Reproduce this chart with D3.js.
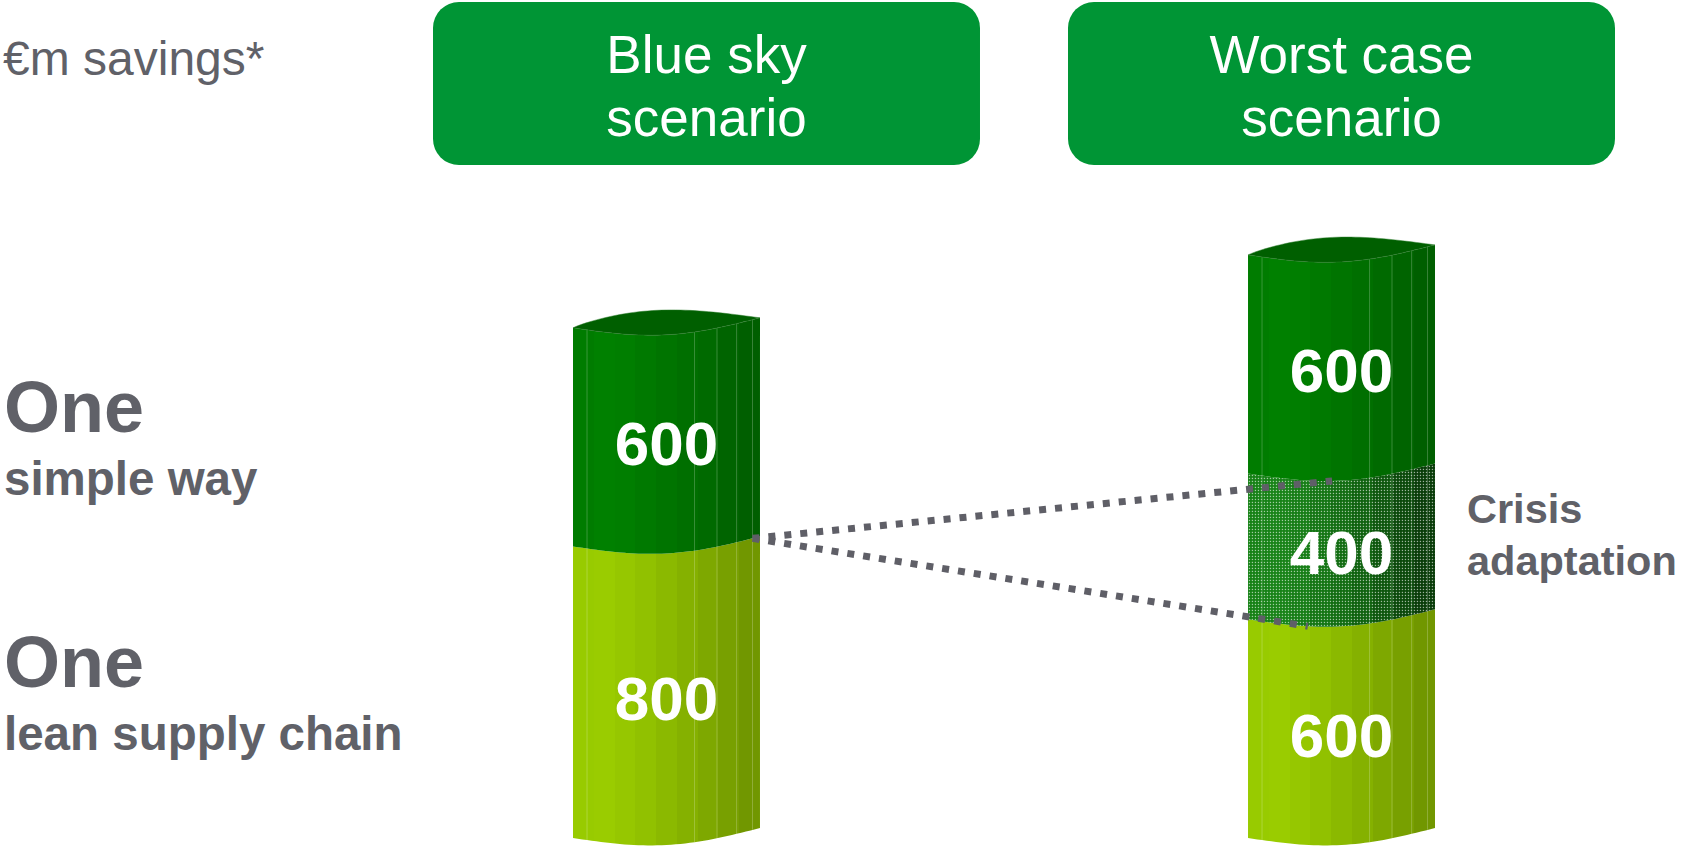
<!DOCTYPE html>
<html>
<head>
<meta charset="utf-8">
<script src="https://cdn.jsdelivr.net/npm/d3@7"></script>
<style>
  html, body { margin: 0; padding: 0; background: #ffffff; }
  svg { display: block; }
  text { font-family: "Liberation Sans", Arial, Helvetica, sans-serif; }
</style>
</head>
<body>
<script>
// ---------------- data ----------------
const categories = ["Blue sky scenario", "Worst case scenario"];
const headerLines = [["Blue sky", "scenario"], ["Worst case", "scenario"]];
const seriesKeys = ["leanSupplyChain", "crisisAdaptation", "simpleWay"];
const leanSupplyChain = [800, 600];
const crisisAdaptation = [0, 400];
const simpleWay = [600, 600];
const unitLabel = "€m savings*";
const rowLabels = [
  { key: "simpleWay", big: "One", small: "simple way" },
  { key: "leanSupplyChain", big: "One", small: "lean supply chain" }
];
const sideLabel = { key: "crisisAdaptation", lines: ["Crisis", "adaptation"] };
const yDomainMax = 1600;

// ---------------- setup ----------------
const W = 1684, H = 846;
const svg = d3.select("body").append("svg").attr("width", W).attr("height", H);
const gray = "#606168";

const rows = categories.map((c, i) => ({
  category: c,
  leanSupplyChain: leanSupplyChain[i],
  crisisAdaptation: crisisAdaptation[i],
  simpleWay: simpleWay[i]
}));
const stacked = d3.stack().keys(seriesKeys)(rows);

const xHeader = d3.scaleBand().domain(categories).range([433, 1615]).paddingInner(0.1386);
const xBar = d3.scaleBand().domain(categories).range([573, 1435]).paddingInner(0.723);
const y = d3.scaleLinear().domain([0, yDomainMax]).range([838, 254.9]);

// ---------------- defs ----------------
const defs = svg.append("defs");
function stepGradient(id, colors) {
  const g = defs.append("linearGradient").attr("id", id)
    .attr("x1", "0").attr("x2", "1").attr("y1", "0").attr("y2", "0");
  const n = colors.length;
  colors.forEach((c, i) => {
    g.append("stop").attr("offset", i / n).attr("stop-color", c);
    g.append("stop").attr("offset", (i + 1) / n).attr("stop-color", c);
  });
}
stepGradient("gDark", ["#007c00", "#008000", "#007e00", "#007900", "#007400", "#006f00", "#006a00", "#006400", "#005f00"]);
stepGradient("gLight", ["#98cb00", "#9acc00", "#96c700", "#91c100", "#8bb900", "#85b100", "#7ea800", "#78a000", "#719700"]);
stepGradient("gCrisis", ["#138013", "#158215", "#137c13", "#117411", "#0f6b0f", "#0c600c", "#0a540a", "#084708", "#063a06"]);

const pat = defs.append("pattern").attr("id", "dots")
  .attr("patternUnits", "userSpaceOnUse").attr("width", 3).attr("height", 3);
pat.append("rect").attr("x", 0.8).attr("y", 0.8).attr("width", 1.3).attr("height", 1.3)
  .attr("fill", "#ffffff").attr("fill-opacity", 0.6);

const fills = { leanSupplyChain: "url(#gLight)", crisisAdaptation: "url(#gCrisis)", simpleWay: "url(#gDark)" };

// arc offsets for perspective of the cylinder
const frontOff = t => -10 * t + 12 * Math.sin(Math.PI * t);
const backOff = t => -10 * t - 13 * Math.sin(Math.PI * Math.pow(t, 0.85));
const ts = d3.range(0, 1.0001, 0.025);
const line = d3.line().curve(d3.curveLinear);

function arcPts(x0, w, yb, off) {
  return ts.map(t => [x0 + t * w, yb + off(t)]);
}

// ---------------- header boxes ----------------
const header = svg.append("g");
categories.forEach((c, i) => {
  const x0 = xHeader(c), bw = xHeader.bandwidth();
  header.append("rect").attr("x", x0).attr("y", 2).attr("width", bw).attr("height", 163)
    .attr("rx", 26).attr("ry", 26).attr("fill", "#009535");
  headerLines[i].forEach((ln, j) => {
    header.append("text").attr("x", x0 + bw / 2).attr("y", 73 + j * 63)
      .attr("text-anchor", "middle").attr("fill", "#ffffff")
      .attr("font-size", 53).text(ln);
  });
});

svg.append("text").attr("x", 3).attr("y", 75).attr("fill", gray)
  .attr("font-size", 48).text(unitLabel);

// ---------------- cylinders ----------------
const bars = svg.append("g");
const bw = xBar.bandwidth();
stacked.forEach(layer => {
  layer.forEach((d, i) => {
    if (d[1] - d[0] <= 0) return;
    const x0 = xBar(categories[i]);
    const top = arcPts(x0, bw, y(d[1]), frontOff);
    const bot = arcPts(x0, bw, y(d[0]), frontOff).reverse();
    const pts = top.concat(bot);
    bars.append("path").attr("d", line(pts) + "Z").attr("fill", fills[layer.key]);
    if (layer.key === "crisisAdaptation") {
      bars.append("path").attr("d", line(pts) + "Z").attr("fill", "url(#dots)");
    }
  });
});

// facet lines
const facetTs = [0.075, 0.65, 0.77, 0.875, 0.96];
categories.forEach((c, i) => {
  const x0 = xBar(c);
  const total = stacked[stacked.length - 1][i][1];
  facetTs.forEach(t => {
    const xx = x0 + t * bw;
    bars.append("line").attr("x1", xx).attr("x2", xx)
      .attr("y1", y(total) + frontOff(t)).attr("y2", y(0) + frontOff(t))
      .attr("stroke", "#ffffff").attr("stroke-opacity", 0.22).attr("stroke-width", 1);
  });
  // top face
  const back = arcPts(x0, bw, y(total), backOff);
  const front = arcPts(x0, bw, y(total), frontOff).reverse();
  bars.append("path").attr("d", line(back.concat(front)) + "Z")
    .attr("fill", "#005f00").attr("stroke", "#2f7f2f").attr("stroke-width", 0.8).attr("stroke-opacity", 0.6);
});

// ---------------- value labels ----------------
stacked.forEach(layer => {
  layer.forEach((d, i) => {
    const v = d[1] - d[0];
    if (v <= 0) return;
    bars.append("text")
      .attr("x", xBar(categories[i]) + bw / 2)
      .attr("y", y((d[0] + d[1]) / 2) + 28)
      .attr("text-anchor", "middle").attr("fill", "#ffffff")
      .attr("font-size", 62).attr("font-weight", "bold").text(v);
  });
});

// ---------------- dotted connectors ----------------
const keyIndex = k => seriesKeys.indexOf(k);
const leftCat = categories[0], rightCat = categories[1];
const startT = 0.96;
const boundaryL = stacked[keyIndex("leanSupplyChain")][0][1];
const start = [xBar(leftCat) + startT * bw, y(boundaryL) + frontOff(startT)];
const crisisR = stacked[keyIndex("crisisAdaptation")][1];
const ends = [
  { v: crisisR[1], t: 0.45 },
  { v: crisisR[0], t: 0.32 }
];
ends.forEach(e => {
  const end = [xBar(rightCat) + e.t * bw, y(e.v) + frontOff(e.t)];
  svg.append("path").attr("d", line([start, end]))
    .attr("stroke", "#5f5f67").attr("stroke-width", 7)
    .attr("stroke-dasharray", "7 9").attr("fill", "none");
});

// ---------------- row labels ----------------
const rowG = svg.append("g");
rowLabels.forEach(r => {
  const d = stacked[keyIndex(r.key)][0];
  const mid = y((d[0] + d[1]) / 2);
  rowG.append("text").attr("x", 4).attr("y", mid - 5).attr("fill", gray)
    .attr("font-size", 72).attr("font-weight", "bold").text(r.big);
  rowG.append("text").attr("x", 4).attr("y", mid + 58).attr("fill", gray)
    .attr("font-size", 47.5).attr("font-weight", "bold").text(r.small);
});

// side label
{
  const d = stacked[keyIndex(sideLabel.key)][1];
  const mid = y((d[0] + d[1]) / 2);
  sideLabel.lines.forEach((ln, j) => {
    svg.append("text").attr("x", 1467).attr("y", mid - 23 + j * 52).attr("fill", gray)
      .attr("font-size", 41.5).attr("font-weight", "bold").text(ln);
  });
}
</script>
</body>
</html>
